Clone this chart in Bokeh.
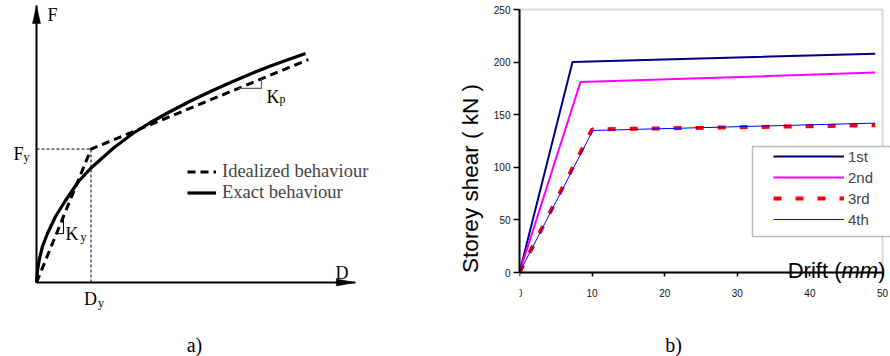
import numpy as np
from bokeh.plotting import figure
from bokeh.layouts import row
from bokeh.models import (Range1d, Label, Legend, LegendItem,
                          BoxAnnotation, FixedTicker)
from bokeh.embed import file_html
from bokeh.resources import INLINE

# ---------------- panel a) schematic data (arbitrary units) ----------------
exact_d = [0, 0.037, 0.111, 0.222, 0.407, 0.704, 1.074, 1.556, 2.000, 2.852, 3.593,
           4.222, 4.852, 5.704, 6.444, 7.185, 7.926, 8.667, 9.333, 9.963]
exact_f = [0, 0.533, 1.067, 1.600, 2.178, 2.933, 3.644, 4.489, 5.067, 5.978, 6.644,
           7.111, 7.533, 8.067, 8.489, 8.889, 9.267, 9.622, 9.911, 10.178]
ideal_d = [0, 2.02, 10.07]
ideal_f = [0, 5.93, 9.91]
dy_val = 2.02
fy_val = 5.93
ky_d = [0.74, 1.00]
kp_d = [7.48, 8.33]
axis_d_end = 11.81
axis_f_end = 12.31
legend_a = ["Idealized behaviour", "Exact behaviour"]

# ---------------- panel b) storey shear vs drift ----------------
drift_1 = [0, 7.3, 49]
shear_1 = [0, 200, 208]
drift_2 = [0, 8.4, 49]
shear_2 = [0, 181, 190]
drift_3 = [0, 10.0, 49]
shear_3 = [0, 136, 140]
drift_4 = [0, 10.1, 49]
shear_4 = [0, 135, 142]
series_names = ["1st", "2nd", "3rd", "4th"]
x_ticks = [0, 10, 20, 30, 40, 50]
y_ticks = [0, 50, 100, 150, 200, 250]
x_lim = (0, 50)
y_lim = (0, 250)

SERIF = "Liberation Serif"
SANS = "Liberation Sans"

H = 356

# ======================= panel a =======================
W_A = 420
PX_D, PX_F = 27.0, 22.5      # pixels per schematic unit
OX, OY = 36, 282             # origin position in the panel (px from left / top)
pa = figure(width=W_A, height=H,
            x_range=Range1d(-OX / PX_D, (W_A - OX) / PX_D),
            y_range=Range1d(-(H - OY) / PX_F, OY / PX_F),
            x_axis_type=None, y_axis_type=None, min_border=0,
            output_backend="svg", toolbar_location=None)
pa.outline_line_color = None

# reference dotted lines
pa.line([0, dy_val], [fy_val, fy_val], line_color="black", line_width=1, line_dash="3 2")
pa.line([dy_val, dy_val], [0, fy_val], line_color="black", line_width=1, line_dash="3 2")

# axes with arrows
pa.line([0, 0], [0, axis_f_end], line_color="black", line_width=2)
pa.line([0, axis_d_end], [0, 0], line_color="black", line_width=2)
hl_f, hw_d = 18 / PX_F, 4 / PX_D
hl_d, hw_f = 19 / PX_D, 3.5 / PX_F
pa.patch([-hw_d, 0, hw_d], [axis_f_end - hl_f, axis_f_end, axis_f_end - hl_f],
         fill_color="black", line_color="black", line_width=0.5)
pa.patch([axis_d_end - hl_d, axis_d_end, axis_d_end - hl_d], [-hw_f, 0, hw_f],
         fill_color="black", line_color="black", line_width=0.5)

r_ideal = pa.line(ideal_d, ideal_f, line_color="black", line_width=3, line_dash="8 5")
r_exact = pa.line(exact_d, exact_f, line_color="black", line_width=3.2, line_join="round")

# slope triangles
kyf = np.interp(ky_d, ideal_d, ideal_f)
pa.line([ky_d[0], ky_d[1], ky_d[1]], [kyf[0], kyf[0], kyf[1]], line_color="black", line_width=1)
kpf = np.interp(kp_d, ideal_d, ideal_f)
pa.line([kp_d[0], kp_d[1], kp_d[1]], [kpf[0], kpf[0], kpf[1]], line_color="#666666", line_width=1.2)


def lab(fig, x, y, text, dx=0, dy=0, size="18px", font=SERIF, style="normal",
        align="left"):
    fig.add_layout(Label(x=x, y=y, x_offset=dx, y_offset=dy, text=text,
                         text_font=font, text_font_size=size, text_font_style=style,
                         text_align=align, text_baseline="alphabetic",
                         text_color="black"))


lab(pa, 0, 0, "F", dx=11, dy=268)
lab(pa, 0, 0, "D", dx=299, dy=10)
lab(pa, 0, fy_val, "F", dx=-23, dy=-4.5)
lab(pa, 0, fy_val, "y", dx=-13, dy=-7.5, size="12px")
lab(pa, dy_val, 0, "D", dx=-7, dy=-16)
lab(pa, dy_val, 0, "y", dx=7, dy=-20, size="12px")
lab(pa, ky_d[1], kyf[0], "K", dx=2, dy=0)
lab(pa, ky_d[1], kyf[0], "y", dx=17, dy=-3, size="12px")
lab(pa, kp_d[1], kpf[0], "K", dx=5, dy=-8.7)
lab(pa, kp_d[1], kpf[0], "p", dx=18, dy=-11, size="12px")
lab(pa, 0, 0, "a)", dx=158, dy=-62, size="20px", align="center")

leg_a = Legend(items=[LegendItem(label=legend_a[0], renderers=[r_ideal]),
                      LegendItem(label=legend_a[1], renderers=[r_exact])],
               location=(187, 153.5), glyph_width=29, glyph_height=19,
               label_height=19, spacing=0, padding=0, margin=0, label_standoff=6,
               label_text_font=SERIF, label_text_font_size="18.5px",
               border_line_color=None, background_fill_alpha=0)
pa.add_layout(leg_a)

# ======================= panel b =======================
W_B = 890 - W_A
B_LEFT = 99                  # frame x: 519 .. 890
PX_X = 363 / 50.0            # 0 at x=519, 50 at x=882
PX_Y = 263 / 250.0           # 0 at y=272, 250 at y=9
pb = figure(width=W_B, height=H,
            x_range=Range1d(0, 50 + (890 - 882) / PX_X),
            y_range=Range1d(-(H - 272) / PX_Y, 250 + 9 / PX_Y),
            min_border_left=B_LEFT, min_border_right=0,
            min_border_top=0, min_border_bottom=0,
            output_backend="svg", toolbar_location=None)
pb.outline_line_color = None
pb.grid.visible = False

for ax, ticks, lim in ((pb.xaxis[0], x_ticks, x_lim), (pb.yaxis[0], y_ticks, y_lim)):
    ax.ticker = FixedTicker(ticks=ticks)
    ax.bounds = lim
    ax.minor_tick_line_color = None
    ax.major_tick_in = 0
    ax.axis_line_color = "black"
    ax.axis_line_width = 2
    ax.major_tick_line_color = "black"
    ax.major_tick_line_width = 1.5
    ax.major_label_text_font = SANS
    ax.major_label_text_font_size = "10px"
    ax.major_label_text_color = "#111111"
pb.xaxis[0].fixed_location = 0
pb.xaxis[0].major_tick_out = 4
pb.xaxis[0].major_label_standoff = 12
pb.yaxis[0].major_tick_out = 6
pb.yaxis[0].major_label_standoff = 3
pb.yaxis[0].axis_label = "Storey shear ( kN )"
pb.yaxis[0].axis_label_text_font = SANS
pb.yaxis[0].axis_label_text_font_size = "22.5px"
pb.yaxis[0].axis_label_text_font_style = "normal"
pb.yaxis[0].axis_label_text_color = "black"
pb.yaxis[0].axis_label_standoff = 8

# grey plot-area border (top & right visible, under the axes)
pb.add_layout(BoxAnnotation(left=x_lim[0], right=x_lim[1], bottom=y_lim[0], top=y_lim[1],
                            fill_alpha=0, line_color="#808080", line_width=2,
                            level="underlay"))

r1 = pb.line(drift_1, shear_1, line_color="#000080", line_width=2)
r2 = pb.line(drift_2, shear_2, line_color="#FF00FF", line_width=2)
r3 = pb.line(drift_3, shear_3, line_color="#FF0000", line_width=4, line_dash="8 14")
r4 = pb.line(drift_4, shear_4, line_color="#0000FF", line_width=1)

pb.add_layout(BoxAnnotation(left=32.09, right=53, bottom=34.2, top=119.8,
                            fill_color="white", fill_alpha=1,
                            line_color="#222222", line_width=1.5))
leg_b = Legend(items=[LegendItem(label=n, renderers=[r]) for n, r in
                      zip(series_names, [r1, r2, r3, r4])],
               location=(254, 127), glyph_width=71, glyph_height=20,
               label_height=20, spacing=1, padding=0, margin=0, label_standoff=4,
               label_text_font=SANS, label_text_font_size="15px",
               border_line_color=None, background_fill_alpha=0)
pb.add_layout(leg_b)

# x-axis title inside the plot (mixed styles)
lab(pb, x_lim[1], 0, ")", dx=3, dy=2, size="22px", font=SANS, align="right")
lab(pb, x_lim[1], 0, "mm", dx=-4.3, dy=2, size="22px", font=SANS, style="italic", align="right")
lab(pb, x_lim[1], 0, "Drift (", dx=-41, dy=2, size="22px", font=SANS, align="right")
lab(pb, 0, 0, "b)", dx=154, dy=-72, size="20px", align="center")

layout = row(pa, pb)
open("out.html", "w").write(file_html(layout, INLINE))
